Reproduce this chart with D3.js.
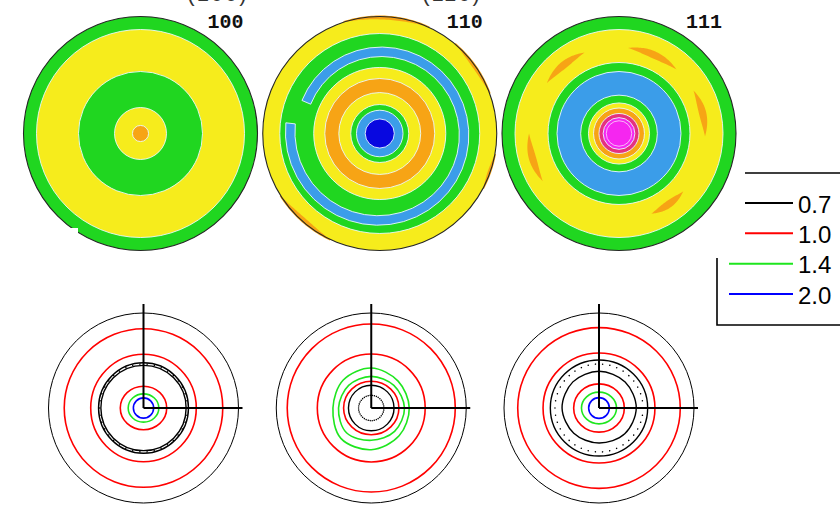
<!DOCTYPE html>
<html>
<head>
<meta charset="utf-8">
<script src="https://cdn.jsdelivr.net/npm/d3@7"></script>
<style>
  html, body { margin: 0; padding: 0; background: #fff; }
  svg { display: block; }
</style>
</head>
<body>
<svg id="chart" width="840" height="506"></svg>
<script>
// ---------------- data ----------------
// Pole figure names and the (partly hidden) captions above them
const poleNames = ["100", "110", "111"];
const poleCaptions = ["(100)", "(110)"];

// Filled pole figures: intensity bands as [outer tilt angle (deg), band colour], outermost first
const bands100 = [[90, "green"], [80, "yellow"], [47.7, "green"], [20, "yellow"], [6.2, "orange"]];
const bands110 = [[90, "yellow"], [76.9, "green"], [50.8, "yellow"], [42.3, "orange"], [31.5, "yellow"],
                  [22.3, "green"], [17.9, "blue"], [11.2, "navy"]];
const bands111 = [[90, "green"], [80, "yellow"], [54.6, "green"], [47.7, "blue"], [29.5, "green"],
                  [23.5, "yellow"], [19.6, "orange"], [15.4, "rose"], [12.2, "magenta"]];

// 110: open blue band winding round the figure [start az, end az, inner tilt at start, at end, band width]
const spiral110 = [-67, 276.5, 57.7, 65.4, 7.3];
// 110: thin orange patches on the rim [az from, az to, depth (deg)]
const rim110 = [[-18, 25, 2.3], [40, 70, 2.3], [100, 118, 1.9], [205, 238, 3.1]];
// 111: isolated orange maxima in the outer yellow band [az from, az to, tilt, width (deg)]
const blobs111 = [[305, 337, 67.7, 5.6], [6, 42, 66.2, 5.6], [60, 92, 66.2, 5.6],
                  [132, 158, 66.5, 5.6], [238, 270, 69.2, 5.6]];
// 111: contour line inside the central maximum (tilt, deg)
const inner111 = [9.8];

// Contour-line pole figures: level and radii (tilt deg).
// one value = circle, two = [horizontal, vertical], more = radii clockwise from the top
const levels = [0.7, 1.0, 1.4, 2.0];
const levelLabels = ["0.7", "1.0", "1.4", "2.0"];
const dottedLevel = 0.5;

const lines100 = [
  { level: 1.0, r: [75.1] },
  { level: 1.0, r: [50, 50.9] },
  { level: 0.7, r: [42.6, 42.9] },
  { level: 0.5, r: [41.7] },
  { level: 0.7, r: [40.4] },
  { level: 1.0, r: [22, 20.6] },
  { level: 1.4, r: [14.5, 13.4] },
  { level: 2.0, r: [9.6] }
];
const lines110 = [
  { level: 1.0, r: [79.6] },
  { level: 1.0, r: [51.1] },
  { level: 1.4, r: [37.9, 36, 36, 37.3, 39.5, 40.7, 36.3, 37.5] },
  { level: 1.4, r: [30, 30.3, 31.5, 31.3, 30.6, 33.2, 31, 30.3] },
  { level: 1.0, r: [26.2, 25.3] },
  { level: 0.7, r: [21.6] },
  { level: 0.5, r: [12] }
];
const lines111 = [
  { level: 1.0, r: [77, 76.1] },
  { level: 1.0, r: [53, 52.1] },
  { level: 0.7, r: [46.1, 45.5] },
  { level: 0.5, r: [41.7] },
  { level: 0.7, r: [34.8, 35, 35.3, 34.5, 33.2, 33.8, 35, 35] },
  { level: 1.0, r: [24, 22.9] },
  { level: 1.4, r: [16.6, 15] },
  { level: 2.0, r: [9.8] }
];

// ---------------- styling ----------------
const bandColors = {
  green: "#20d620", yellow: "#f6ec1c", orange: "#f7a415", blue: "#3b9de9",
  navy: "#0808e0", rose: "#e5317f", magenta: "#f526f0"
};
const levelColors = ["#000000", "#ff0000", "#1ee61e", "#0000ff"];
const contourEdge = "#eaf8ff";

const svg = d3.select("#chart");
const rad = d => d * Math.PI / 180;

// ---------------- legend ----------------
const legend = svg.append("g");
legend.append("path")
  .attr("d", "M842,173H717V325H842")
  .attr("fill", "none").attr("stroke", "#000").attr("stroke-width", 1.6);
const legendY = d3.scalePoint().domain(levels).range([203, 294]);
levels.forEach((lv, i) => {
  legend.append("line")
    .attr("x1", 729).attr("x2", 793)
    .attr("y1", legendY(lv)).attr("y2", legendY(lv))
    .attr("stroke", levelColors[i]).attr("stroke-width", 2);
  legend.append("text")
    .attr("x", 798).attr("y", legendY(lv) + 9.6)
    .attr("font-family", "Liberation Sans, Arial, sans-serif")
    .attr("font-size", 24).attr("fill", "#000")
    .text(levelLabels[i]);
});

// ---------------- filled pole figures ----------------
const panelOutline = "M0,0H745V258H78V228H0Z";
svg.append("defs").append("clipPath").attr("id", "panelClip")
  .append("path").attr("d", panelOutline);
svg.append("path").attr("d", panelOutline).attr("fill", "#fff");

// captions running off the top edge of the page
const capX = d3.scalePoint().domain(poleCaptions).range([218, 452]);
poleCaptions.forEach(c => {
  svg.append("text")
    .attr("x", capX(c)).attr("y", 1)
    .attr("text-anchor", "middle")
    .attr("font-family", "Liberation Sans, Arial, sans-serif")
    .attr("font-size", 22).attr("letter-spacing", 2).attr("fill", "#333")
    .text(c);
});

const pg = svg.append("g").attr("clip-path", "url(#panelClip)");
const rTop = d3.scaleLinear().domain([0, 90]).range([0, 117]);
const topX = d3.scalePoint().domain(poleNames).range([140.5, 619]);
const topY = 133.5;
const poleBands = [bands100, bands110, bands111];

const radial = d3.lineRadial().angle(d => rad(d[0])).radius(d => d[1]).curve(d3.curveLinearClosed);
const steps = d3.range(0, 1.0001, 0.025);

// band between two radius profiles along an azimuth range
function bandPath(a0, a1, innerFn, outerFn) {
  const outer = steps.map(u => [a0 + (a1 - a0) * u, outerFn(u)]);
  const inner = steps.map(u => [a0 + (a1 - a0) * u, innerFn(u)]).reverse();
  return radial(outer.concat(inner));
}

poleNames.forEach((name, i) => {
  const g = pg.append("g").attr("transform", `translate(${topX(name)},${topY})`);
  poleBands[i].forEach(([deg, col], j) => {
    g.append("circle")
      .attr("r", rTop(deg))
      .attr("fill", bandColors[col])
      .attr("stroke", j === 0 ? "none" : contourEdge)
      .attr("stroke-width", 0.9);
  });

  if (name === "110") {
    const [s0, s1, in0, in1, w] = spiral110;
    g.append("path")
      .attr("d", bandPath(s0, s1,
        u => rTop(in0 + (in1 - in0) * u),
        u => rTop(in0 + (in1 - in0) * u + w)))
      .attr("fill", bandColors.blue)
      .attr("stroke", contourEdge).attr("stroke-width", 0.9);
    rim110.forEach(([a0, a1, depth]) => {
      g.append("path")
        .attr("d", bandPath(a0, a1,
          u => rTop(90 - depth * Math.sin(Math.PI * u)),
          () => rTop(90) + 1))
        .attr("fill", bandColors.orange);
    });
  }

  if (name === "111") {
    blobs111.forEach(([a0, a1, mid, w]) => {
      g.append("path")
        .attr("d", bandPath(a0, a1,
          u => rTop(mid - w / 2 * Math.sin(Math.PI * u)),
          u => rTop(mid + w / 2 * Math.sin(Math.PI * u))))
        .attr("fill", bandColors.orange);
    });
    inner111.forEach(deg => {
      g.append("circle").attr("r", rTop(deg))
        .attr("fill", "none").attr("stroke", "#f8c8f8").attr("stroke-width", 0.9);
    });
  }

  g.append("circle")
    .attr("r", rTop(90))
    .attr("fill", "none").attr("stroke", "#262626").attr("stroke-width", 1.1);

  g.append("text")
    .attr("x", 67).attr("y", 28 - topY)
    .attr("font-family", "Liberation Mono, Courier New, monospace")
    .attr("font-weight", "bold").attr("font-size", 20).attr("fill", "#111")
    .text(name);
});

// ---------------- contour-line pole figures ----------------
const rBot = d3.scaleLinear().domain([0, 90]).range([0, 95]);
const botX = d3.scalePoint().domain(poleNames).range([143.5, 599]);
const botY = 408;
const poleLines = [lines100, lines110, lines111];
const colorOf = lv => (lv === dottedLevel ? "#000" : levelColors[levels.indexOf(lv)]);

poleNames.forEach((name, i) => {
  const g = svg.append("g").attr("transform", `translate(${botX(name)},${botY})`);

  g.append("circle").attr("r", rBot(90))
    .attr("fill", "none").attr("stroke", "#000").attr("stroke-width", 1);

  poleLines[i].forEach(c => {
    let el;
    if (c.r.length === 1) {
      el = g.append("circle").attr("r", rBot(c.r[0]));
    } else if (c.r.length === 2) {
      el = g.append("ellipse").attr("rx", rBot(c.r[0])).attr("ry", rBot(c.r[1]));
    } else {
      const n = c.r.length;
      el = g.append("path").attr("d",
        d3.lineRadial()
          .angle((d, k) => k / n * 2 * Math.PI)
          .radius(d => rBot(d))
          .curve(d3.curveCatmullRomClosed)(c.r));
    }
    el.attr("fill", "none").attr("stroke", colorOf(c.level))
      .attr("stroke-width", c.level === 0.7 ? 1.4 : 1.6);
    if (c.level === dottedLevel) {
      // a fixed number of round dots around the ring
      el.attr("pathLength", 38).attr("stroke-dasharray", "0.01 0.99")
        .attr("stroke-linecap", "round").attr("stroke-width", 1.5);
    }
  });

  // reference axes
  g.append("line").attr("x1", 0).attr("y1", 0).attr("x2", rBot(90) + 4).attr("y2", 0)
    .attr("stroke", "#000").attr("stroke-width", 2);
  g.append("line").attr("x1", 0).attr("y1", 0).attr("x2", 0).attr("y2", -(rBot(90) + 9))
    .attr("stroke", "#000").attr("stroke-width", 2);
});
</script>
</body>
</html>
